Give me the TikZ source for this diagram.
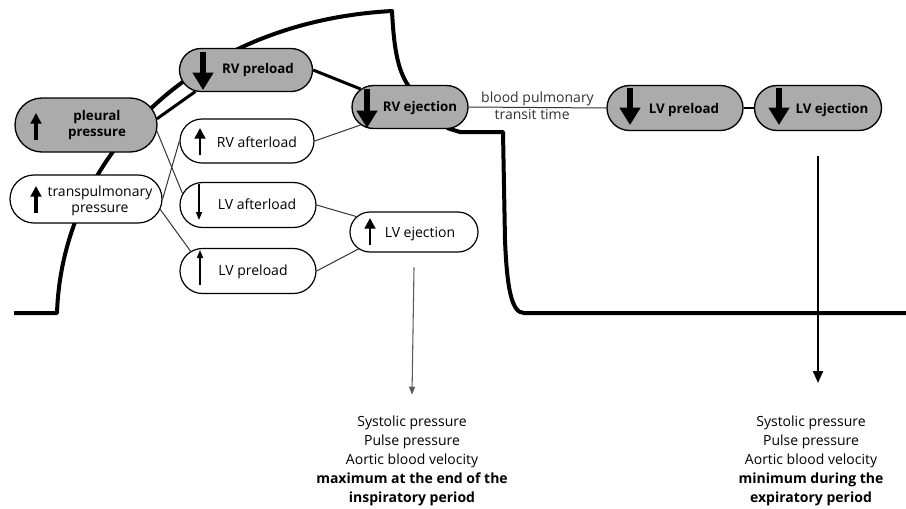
\documentclass[tikz,border=0pt]{standalone}
\usepackage{fontspec}
\setmainfont{Open Sans}
\usepackage{tikz}
\usetikzlibrary{shapes.misc,arrows.meta}

\begin{document}
\begin{tikzpicture}[x=0.75pt,y=0.75pt,yscale=-1,xscale=1,
  greybox/.style={rounded rectangle, draw=black, line width=1pt, fill=black!33, inner sep=0pt},
  whitebox/.style={rounded rectangle, draw=black, line width=0.9pt, fill=white, inner sep=0pt},
  boxtext/.style={inner sep=0.75pt, align=center, font=\fontsize{10.5}{12}\selectfont},
  boldtext/.style={inner sep=0.75pt, align=center, font=\fontsize{10}{12}\selectfont\bfseries},
  fatarrow/.style={line width=5pt, -{Triangle[length=13pt,width=15pt]}},
  uparrow/.style={line width=2.6pt, -{Triangle[length=8pt,width=8pt]}},
  slimarrow/.style={line width=1.1pt, -{Triangle[length=6pt,width=4.5pt]}},
  wave/.style={line width=3pt, line join=round},
  thickline/.style={line width=2.25pt},
  thinline/.style={line width=0.75pt, black!80}]
\useasboundingbox (0,0) rectangle (906,508);

%Curve: pressure wave
\draw [wave] (14,313) -- (57,313) .. controls (62,160) and (190,22) .. (392,11) .. controls (394,50) and (398,72) .. (410,88) ;
\draw [wave] (447,128) -- (460,132) -- (503,132) -- (505,240) .. controls (507,290) and (512,313) .. (524,313) -- (906,313) ;

%Shapes: boxes
\node [greybox, minimum width=106.5pt, minimum height=40.5pt] (pleural) at (86,125) {};
\node [whitebox, minimum width=114pt, minimum height=36pt] (transpul) at (86,199) {};
\node [greybox, minimum width=99.75pt, minimum height=32.25pt] (rvpre) at (246,70) {};
\node [whitebox, minimum width=100.5pt, minimum height=33pt] (rvaft) at (247,141) {};
\node [whitebox, minimum width=102pt, minimum height=33.75pt] (lvaft) at (248,205) {};
\node [whitebox, minimum width=102pt, minimum height=33.75pt] (lvpre) at (248,271) {};
\node [greybox, minimum width=87pt, minimum height=32.25pt] (rvej) at (410,107) {};
\node [whitebox, minimum width=96pt, minimum height=30pt] (lvej) at (414,232) {};
\node [greybox, minimum width=102pt, minimum height=33.75pt] (lvpre2) at (675,108) {};
\node [greybox, minimum width=95.25pt, minimum height=33.75pt] (lvej2) at (818,108) {};

%Straight Lines
\draw [thickline] (pleural.5) -- (rvpre.203) ;
\draw [thickline] (rvpre.east) -- (rvej.160) ;
\draw [thinline] (pleural.-5) -- (lvaft.170) ;
\draw [thinline] (transpul.east) -- (rvaft.west) ;
\draw [thinline] (transpul.-8) -- (lvpre.161) ;
\draw [thinline] (rvaft.east) -- (rvej.200) ;
\draw [thinline] (lvaft.east) -- (lvej.165) ;
\draw [thinline] (lvpre.east) -- (lvej.197) ;
\draw [thinline] (rvej.east) -- node [above, boxtext] (transit-a) {blood pulmonary} node [below, boxtext, xshift=-4pt] (transit-b) {transit time} (lvpre2.west) ;
\draw [line width=1.5pt] (lvpre2.east) -- (lvej2.west) ;

%Arrows in boxes
\draw [fatarrow] (203,52) -- (203,90) ;
\draw [fatarrow] (367,89) -- (367,128) ;
\draw [fatarrow] (630,88) -- (630,125) ;
\draw [fatarrow] (779,88) -- (779,125) ;
\draw [uparrow] (36,140) -- (36,113) ;
\draw [uparrow] (36,213) -- (36,186) ;
\draw [uparrow, line width=2.2pt] (200,155) -- (200,128) ;
\draw [uparrow, line width=2.2pt] (370,245) -- (370,218) ;
\draw [slimarrow] (199,184) -- (199,220) ;
\draw [slimarrow] (200,285) -- (200,250) ;

% Text Node
\node [boldtext] (pleural-t) at (97,125) {pleural\\pressure};
\node [boxtext] (transpul-t) at (100,201) {transpulmonary\\pressure};
\node [boldtext] (rvpre-t) at (258,70) {RV preload};
\node [boxtext] (rvaft-t) at (257,142) {RV afterload};
\node [boxtext] (lvaft-t) at (257,204) {LV afterload};
\node [boxtext] (lvpre-t) at (253,272) {LV preload};
\node [boldtext] (rvej-t) at (420,108) {RV ejection};
\node [boxtext] (lvej-t) at (420,234) {LV ejection};
\node [boldtext] (lvpre2-t) at (684,110) {LV preload};
\node [boldtext] (lvej2-t) at (832,110) {LV ejection};

% Text Node
\node [boxtext, font=\fontsize{10.5}{14.25}\selectfont] (maxtxt) at (412,461) {Systolic pressure\\Pulse pressure\\Aortic blood velocity\\\textbf{maximum at the end of the}\\\textbf{inspiratory period}};
\node [boxtext, font=\fontsize{10.5}{14.25}\selectfont] (mintxt) at (811,461) {Systolic pressure\\Pulse pressure\\Aortic blood velocity\\\textbf{minimum during the}\\\textbf{expiratory period}};
\coordinate (minend) at (818,383);

%Output arrows
\draw [line width=0.8pt, black!65, -{Triangle[length=6pt,width=4.5pt]}] ([yshift=11pt]lvej.south) -- ([yshift=-15pt]maxtxt.north) ;
\draw [line width=1.5pt, -{Triangle[length=9pt,width=7.5pt]}] ([yshift=18.75pt]lvej2.south) -- (minend) ;

\end{tikzpicture}
\end{document}
